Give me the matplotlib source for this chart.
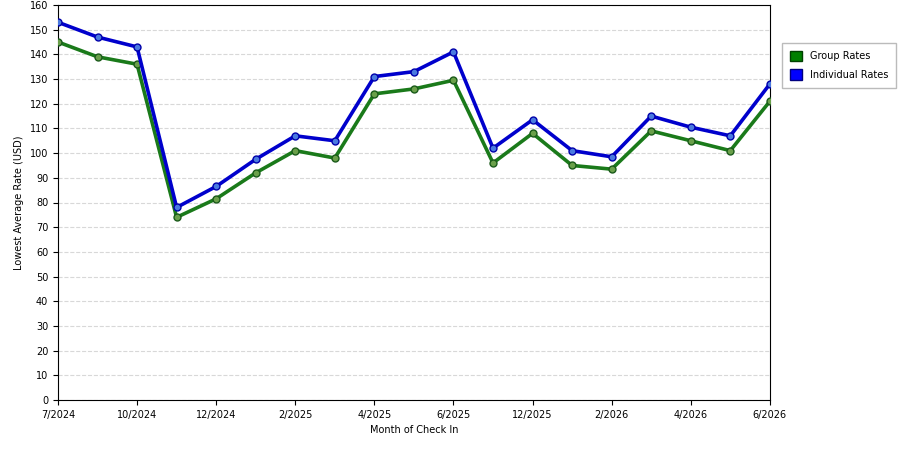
import matplotlib.pyplot as plt
from matplotlib.patches import Patch

tick_labels = ['7/2024', '10/2024', '12/2024', '2/2025', '4/2025', '6/2025',
               '12/2025', '2/2026', '4/2026', '6/2026']
individual = [153, 147, 143, 78, 86.5, 97.5, 107, 105, 131, 133, 141, 102,
              113.5, 101, 98.5, 115, 110.5, 107, 128]
group = [145, 139, 136, 74, 81.5, 92, 101, 98, 124, 126, 129.5, 96,
         108, 95, 93.5, 109, 105, 101, 121]

x = list(range(len(individual)))

fig = plt.figure(figsize=(9, 4.5), dpi=100)
ax = fig.add_axes([0.0644, 0.111, 0.791, 0.878])

ax.plot(x, group, color='#1a7a1a', linewidth=2.6, marker='o', markersize=5,
        markerfacecolor='#6aa04a', markeredgecolor='#1a5a1a', zorder=3)
ax.plot(x, individual, color='#0000cc', linewidth=2.6, marker='o', markersize=5,
        markerfacecolor='#4a7ae0', markeredgecolor='#0000aa', zorder=3)

ax.set_xlim(0, len(x) - 1)
ax.set_ylim(0, 160)
ax.set_xticks(x[::2])
ax.set_xticklabels(tick_labels, fontsize=7)
ax.set_yticks(range(0, 161, 10))
ax.tick_params(axis='y', labelsize=7)
for s in ax.spines.values():
    s.set_linewidth(0.8)
ax.grid(True, axis='y', linestyle='--', color='#d8d8d8', linewidth=0.8)
ax.set_axisbelow(True)
ax.set_xlabel('Month of Check In', fontsize=7)
ax.set_ylabel('Lowest Average Rate (USD)', fontsize=7)

handles = [Patch(facecolor='#008000', edgecolor='#004000', label='Group Rates'),
           Patch(facecolor='#0000ff', edgecolor='#000080', label='Individual Rates')]
fig.legend(handles=handles, loc='upper left', bbox_to_anchor=(0.864, 0.915),
           fontsize=7, frameon=True, fancybox=False, edgecolor='#aaaaaa',
           handlelength=1.2, handleheight=1.3, labelspacing=0.8,
           borderpad=0.8)

fig.savefig('out.png', dpi=100)
